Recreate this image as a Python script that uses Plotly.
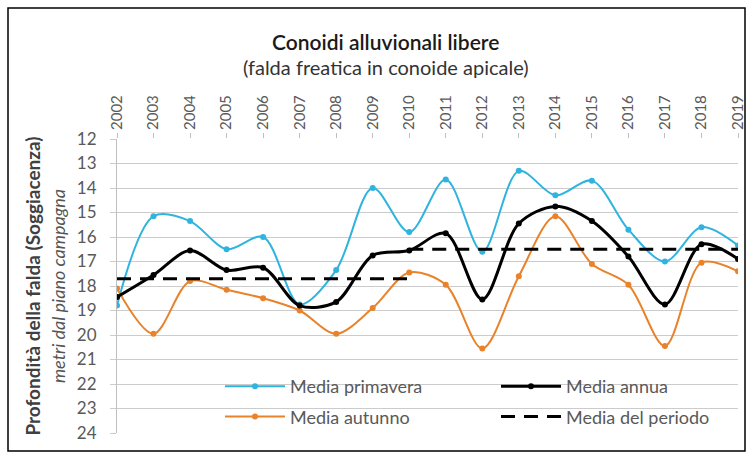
import plotly.graph_objects as go

years = list(range(2002, 2020))
primavera = [18.8, 15.15, 15.35, 16.5, 16.0, 18.75, 17.35, 14.0, 15.8, 13.65, 16.6, 13.3, 14.3, 13.7, 15.7, 17.0, 15.6, 16.35]
annua = [18.45, 17.55, 16.55, 17.35, 17.25, 18.8, 18.65, 16.75, 16.55, 15.85, 18.55, 15.45, 14.75, 15.35, 16.8, 18.75, 16.3, 16.9]
autunno = [18.1, 19.95, 17.8, 18.15, 18.5, 19.0, 19.95, 18.9, 17.45, 17.95, 20.55, 17.6, 15.15, 17.1, 17.95, 20.45, 17.05, 17.4]
periodo1_years = list(range(2002, 2011))
periodo1 = [17.7] * len(periodo1_years)
periodo2_years = list(range(2010, 2020))
periodo2 = [16.5] * len(periodo2_years)
ytick_vals = list(range(12, 25))

FONT = "Lato"
W, H = 753, 452
L, R, T, B = 117, 15, 139, 19
pw, ph = W - L - R, H - T - B

def px_x(p):
    return (p - L) / pw

def px_y(p):
    return (H - B - p) / ph

fig = go.Figure()
fig.add_trace(go.Scatter(x=years, y=primavera, name="Media primavera", mode="lines+markers",
                         line=dict(color="#2fb3df", width=2, shape="spline", smoothing=0.9),
                         marker=dict(size=6, color="#2fb3df"), legend="legend", legendgroup="a", legendrank=1))
fig.add_trace(go.Scatter(x=years, y=autunno, name="Media autunno", mode="lines+markers",
                         line=dict(color="#e8832c", width=2, shape="spline", smoothing=0.9),
                         marker=dict(size=6, color="#e8832c"), legend="legend", legendgroup="b", legendrank=2))
fig.add_trace(go.Scatter(x=periodo1_years, y=periodo1, name="Media del periodo", mode="lines",
                         line=dict(color="black", width=3, dash="14px,9px"), legend="legend2",
                         legendgroup="d", legendrank=2))
fig.add_trace(go.Scatter(x=periodo2_years, y=periodo2, name="Media del periodo", mode="lines",
                         line=dict(color="black", width=3, dash="14px,9px"), showlegend=False, legendgroup="d"))
fig.add_trace(go.Scatter(x=years, y=annua, name="Media annua", mode="lines+markers",
                         line=dict(color="black", width=3, shape="spline", smoothing=0.9),
                         marker=dict(size=6, color="black"), legend="legend2", legendgroup="c", legendrank=1))

legend_font = dict(size=18, color="#595959", family=FONT)
fig.update_layout(
    width=W, height=H,
    margin=dict(l=L, r=R, t=T, b=B, autoexpand=False),
    paper_bgcolor="white", plot_bgcolor="white",
    font=dict(family=FONT, color="#595959", size=14),
    showlegend=True,
    legend=dict(x=px_x(220), y=px_y(368), xanchor="left", yanchor="top",
                bgcolor="rgba(0,0,0,0)", font=legend_font, tracegroupgap=4, itemwidth=60),
    legend2=dict(x=px_x(496), y=px_y(368), xanchor="left", yanchor="top",
                 bgcolor="rgba(0,0,0,0)", font=legend_font, tracegroupgap=4, itemwidth=60),
    xaxis=dict(side="top", range=[2002, 2019], tickmode="array", tickvals=years,
               ticktext=[str(y) for y in years], tickangle=-90, showgrid=False,
               showline=False, ticks="outside", ticklen=5, tickcolor="#bfbfbf",
               tickfont=dict(size=15, color="#595959"), zeroline=False, automargin=False),
    yaxis=dict(range=[24, 12], tickmode="array", tickvals=ytick_vals, showgrid=True,
               gridcolor="#cccccc", gridwidth=1, showline=True, linecolor="#bfbfbf",
               zeroline=False, tickfont=dict(size=17, color="#595959"), ticks="outside",
               ticklen=6, tickcolor="#cccccc", automargin=False, ticklabelstandoff=10,
               title=dict(text="<b>Profondità della falda (Soggiacenza)</b><br><i><span style='font-size:18px;color:#555555'>metri dal piano campagna</span></i>",
                          font=dict(size=19, color="#404040"), standoff=6)),
    shapes=[
        dict(type="rect", xref="paper", yref="paper", x0=px_x(212), x1=1.01, y0=px_y(448), y1=px_y(368),
             fillcolor="white", line=dict(width=0), layer="between"),
        dict(type="rect", xref="paper", yref="paper", x0=px_x(8), x1=px_x(745), y0=px_y(451), y1=px_y(8),
             fillcolor="rgba(0,0,0,0)", line=dict(color="black", width=1.5), layer="above"),
    ],
    annotations=[
        dict(text="Conoidi alluvionali libere", x=px_x(385), y=px_y(42), xref="paper", yref="paper",
             showarrow=False, font=dict(size=21, color="#1a1a1a", family=FONT, weight=600),
             xanchor="center", yanchor="middle"),
        dict(text="(falda freatica in conoide apicale)", x=px_x(386), y=px_y(67), xref="paper", yref="paper",
             showarrow=False, font=dict(size=20, color="#333333", family=FONT),
             xanchor="center", yanchor="middle"),
    ],
)

fig.write_html("out.html", config={"displayModeBar": False},
               post_script="document.body.style.margin='0px';document.body.style.overflow='hidden';")
